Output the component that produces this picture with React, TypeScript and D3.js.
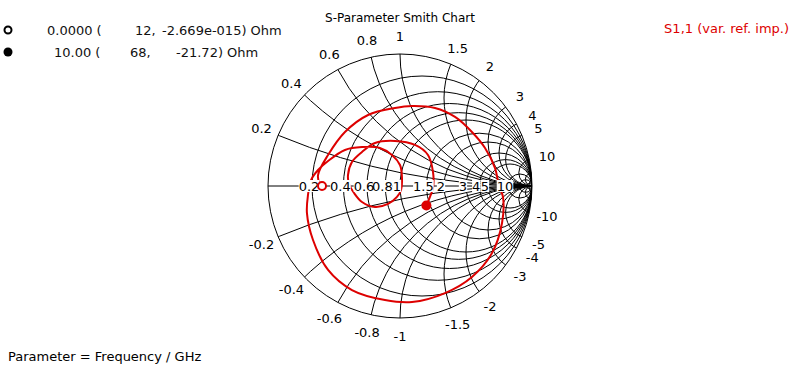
import React, { useEffect, useRef } from 'react';
import * as d3 from 'd3';

const gammaRe = [-0.606, -0.621, -0.545, -0.417, -0.242, -0.038, 0.091, 0.265, 0.417, 0.545, 0.644, 0.72, 0.75, 0.78, 0.773, 0.697, 0.545, 0.341, 0.091, -0.114, -0.364, -0.545, -0.659, -0.705, -0.697, -0.674, -0.621, -0.545, -0.417, -0.288, -0.152, -0.061, 0, 0.015, 0.008, -0.023, -0.091, -0.189, -0.288, -0.348, -0.386, -0.394, -0.364, -0.288, -0.189, -0.038, 0.114, 0.212, 0.25, 0.25, 0.227, 0.2];
const gammaIm = [0, 0.083, 0.235, 0.409, 0.538, 0.591, 0.606, 0.591, 0.523, 0.409, 0.288, 0.136, 0, -0.083, -0.28, -0.508, -0.689, -0.811, -0.879, -0.864, -0.788, -0.636, -0.409, -0.205, -0.068, 0.045, 0.121, 0.189, 0.273, 0.295, 0.288, 0.235, 0.159, 0.061, -0.03, -0.083, -0.136, -0.159, -0.121, -0.053, 0.015, 0.083, 0.182, 0.258, 0.326, 0.341, 0.311, 0.235, 0.106, -0.015, -0.083, -0.148];

const gridValues = [0.2, 0.4, 0.6, 0.8, 1, 1.5, 2, 3, 4, 5, 10, 20, 50];
const labelValues = [0.2, 0.4, 0.6, 0.8, 1, 1.5, 2, 3, 4, 5, 10];

const markerFreq = ['0.0000', '10.00'];
const markerRe = ['12,', '68,'];
const markerIm = ['-2.669e-015) Ohm', '-21.72) Ohm'];

const W = 797;
const H = 372;
const FONT = '"DejaVu Sans", sans-serif';
const RED = '#dd0000';

const fmt = (v: number) => String(v);

export default function App() {
  const ref = useRef<SVGSVGElement>(null);

  useEffect(() => {
    const svg = d3.select(ref.current);
    svg.selectAll('*').remove();

    const cx = 400, cy = 186, R = 132;
    const sx = d3.scaleLinear().domain([-1, 1]).range([cx - R, cx + R]);
    const sy = d3.scaleLinear().domain([-1, 1]).range([cy + R, cy - R]);

    svg.append('defs').append('clipPath').attr('id', 'unit')
      .append('circle').attr('cx', sx(0)).attr('cy', sy(0)).attr('r', R);

    const grid = svg.append('g').attr('clip-path', 'url(#unit)')
      .attr('fill', 'none').attr('stroke', '#000').attr('stroke-width', 1);

    gridValues.forEach(r => {
      grid.append('circle')
        .attr('cx', sx(r / (1 + r))).attr('cy', sy(0))
        .attr('r', R / (1 + r));
    });
    gridValues.forEach(x => {
      [x, -x].forEach(v => {
        grid.append('circle')
          .attr('cx', sx(1)).attr('cy', sy(1 / v))
          .attr('r', R / Math.abs(v));
      });
    });
    grid.append('line')
      .attr('x1', sx(-1)).attr('x2', sx(1)).attr('y1', sy(0)).attr('y2', sy(0));

    svg.append('circle').attr('cx', sx(0)).attr('cy', sy(0)).attr('r', R)
      .attr('fill', 'none').attr('stroke', '#000');

    // trace
    const pts: [number, number][] = gammaRe.map((g, i) => [g, gammaIm[i]]);
    const line = d3.line<[number, number]>()
      .x(d => sx(d[0])).y(d => sy(d[1]))
      .curve(d3.curveCatmullRom.alpha(0.5));
    svg.append('path').datum(pts).attr('d', line)
      .attr('fill', 'none').attr('stroke', RED).attr('stroke-width', 2);

    // real axis labels with white boxes
    const axisLab = svg.append('g').attr('font-family', FONT).attr('font-size', 13);
    labelValues.forEach(r => {
      const px = sx((r - 1) / (r + 1)) - 3;
      const t = axisLab.append('text')
        .attr('x', px).attr('y', sy(0) + 5)
        .attr('text-anchor', 'middle').attr('fill', '#000')
        .text(fmt(r));
      const w = (t.node() as SVGTextElement).getComputedTextLength();
      axisLab.insert('rect', 'text')
        .attr('x', px - w / 2).attr('y', sy(0) - 6)
        .attr('width', w).attr('height', 12).attr('fill', '#fff');
    });

    // reactance labels around the rim
    const rim = svg.append('g').attr('font-family', FONT).attr('font-size', 13)
      .attr('text-anchor', 'middle').attr('fill', '#000');
    labelValues.forEach(x => {
      [x, -x].forEach(v => {
        const a = Math.PI - 2 * Math.atan(Math.abs(v));
        const rr = 1 + 18 / R;
        rim.append('text')
          .attr('x', sx(rr * Math.cos(a)))
          .attr('y', sy(Math.sign(v) * rr * Math.sin(a)) + 5)
          .text(fmt(v));
      });
    });

    // markers on the trace
    const first = pts[0];
    const last = pts[pts.length - 1];
    svg.append('circle').attr('cx', sx(first[0]) + 2).attr('cy', sy(first[1]))
      .attr('r', 4).attr('fill', '#fff').attr('stroke', RED).attr('stroke-width', 2);
    svg.append('circle').attr('cx', sx(last[0])).attr('cy', sy(last[1]))
      .attr('r', 5).attr('fill', RED);

    // legend
    const leg = svg.append('g').attr('font-family', FONT).attr('font-size', 13).attr('fill', '#111');
    markerFreq.forEach((f, i) => {
      const y = 30 + i * 22;
      if (i === 0) {
        leg.append('circle').attr('cx', 8).attr('cy', y).attr('r', 3.5)
          .attr('fill', '#fff').attr('stroke', '#000').attr('stroke-width', 2);
      } else {
        leg.append('circle').attr('cx', 8).attr('cy', y).attr('r', 4.5).attr('fill', '#000');
      }
      leg.append('text').attr('x', i === 0 ? 47 : 54).attr('y', y + 5).text(f + ' (');
      leg.append('text').attr('x', i === 0 ? 135 : 130).attr('y', y + 5).text(markerRe[i]);
      leg.append('text').attr('x', i === 0 ? 162 : 176).attr('y', y + 5).text(markerIm[i]);
    });

    svg.append('text').attr('x', 400).attr('y', 22).attr('text-anchor', 'middle')
      .attr('font-family', FONT).attr('font-size', 12).attr('fill', '#000')
      .text('S-Parameter Smith Chart');

    svg.append('text').attr('x', 789).attr('y', 33).attr('text-anchor', 'end')
      .attr('font-family', FONT).attr('font-size', 13).attr('fill', RED)
      .text('S1,1 (var. ref. imp.)');

    svg.append('text').attr('x', 8).attr('y', 361)
      .attr('font-family', FONT).attr('font-size', 13).attr('fill', '#000')
      .text('Parameter = Frequency / GHz');
  }, []);

  return (
    <svg ref={ref} width={W} height={H}
      style={{ position: 'absolute', left: 0, top: 0, background: '#fff' }} />
  );
}
